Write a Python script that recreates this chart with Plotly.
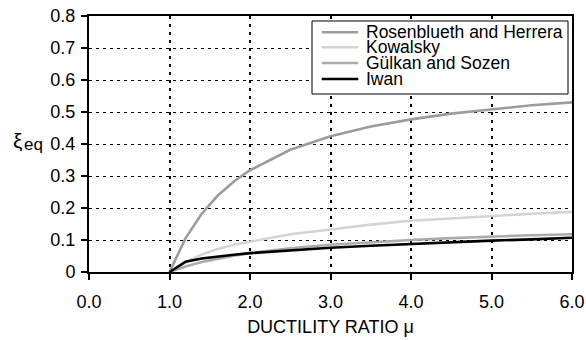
import plotly.graph_objects as go

mu = [1.0, 1.2, 1.4, 1.6, 1.8, 2.0, 2.5, 3.0, 3.5, 4.0, 4.5, 5.0, 5.5, 6.0]
rosenblueth = [0, 0.106, 0.182, 0.239, 0.283, 0.318, 0.382, 0.424, 0.455, 0.477, 0.495, 0.509, 0.521, 0.530]
kowalsky = [0, 0.030, 0.055, 0.072, 0.085, 0.095, 0.118, 0.133, 0.148, 0.160, 0.168, 0.175, 0.182, 0.188]
gulkan = [0, 0.017, 0.031, 0.042, 0.051, 0.059, 0.074, 0.085, 0.093, 0.100, 0.106, 0.111, 0.115, 0.118]
iwan = [0, 0.032, 0.042, 0.049, 0.054, 0.059, 0.068, 0.076, 0.082, 0.088, 0.093, 0.098, 0.102, 0.107]

names = ["Rosenblueth and Herrera", "Kowalsky", "Gülkan and Sozen", "Iwan"]
series = [rosenblueth, kowalsky, gulkan, iwan]
colors = ["#9c9c9c", "#d4d4d4", "#ababab", "#000000"]

x_ticks = [0, 1, 2, 3, 4, 5, 6]
y_ticks = [0, 0.1, 0.2, 0.3, 0.4, 0.5, 0.6, 0.7, 0.8]
y_labels = ["0", "0.1", "0.2", "0.3", "0.4", "0.5", "0.6", "0.7", "0.8"]

FONT = "Liberation Sans, Arial, sans-serif"
W, H = 586, 340
L, R, T, B = 89, 14, 16, 68
PW, PH = W - L - R, H - T - B


def px(xp):
    return (xp - L) / PW


def py(yp):
    return (H - B - yp) / PH


fig = go.Figure()
for name, vals, col in zip(names, series, colors):
    fig.add_trace(go.Scatter(x=mu, y=vals, mode="lines", name=name,
                             line=dict(color=col, width=2.6), showlegend=False))

fig.update_layout(
    width=W, height=H,
    margin=dict(l=L, r=R, t=T, b=B, autoexpand=False),
    paper_bgcolor="white", plot_bgcolor="white",
    font=dict(family=FONT, size=18, color="black"),
    xaxis=dict(range=[0, 6], tickvals=x_ticks, tickformat=".1f", automargin=False,
               showline=True, linecolor="black", linewidth=2, mirror=True,
               ticks="outside", ticklen=6, tickwidth=1.5, tickcolor="black",
               ticklabelstandoff=6,
               showgrid=True, gridcolor="black", gridwidth=1.6, griddash="3px,5px",
               zeroline=False,
               title=dict(text="DUCTILITY RATIO μ", font=dict(size=18), standoff=10)),
    yaxis=dict(range=[0, 0.8], tickvals=y_ticks, ticktext=y_labels, automargin=False,
               showline=True, linecolor="black", linewidth=2, mirror=True,
               ticks="outside", ticklen=6, tickwidth=1.5, tickcolor="black",
               ticklabelstandoff=2,
               showgrid=True, gridcolor="black", gridwidth=1, griddash="3px,4px",
               zeroline=False),
)

# legend box drawn by hand (tight line spacing like the reference)
fig.add_shape(type="rect", xref="paper", yref="paper",
              x0=px(312), x1=px(568), y0=py(94), y1=py(21),
              line=dict(color="black", width=1), fillcolor="white", layer="above")
rows = [32.3, 47.3, 63.0, 79.0]
for name, col, ry in zip(names, colors, rows):
    fig.add_shape(type="line", xref="paper", yref="paper",
                  x0=px(321.7), x1=px(358.3), y0=py(ry), y1=py(ry),
                  line=dict(color=col, width=2.6), layer="above")
    fig.add_annotation(text=name, xref="paper", yref="paper",
                       x=px(365), y=py(ry), xanchor="left", yanchor="middle",
                       showarrow=False, borderpad=0, font=dict(size=17.5, family=FONT))

fig.add_annotation(text="ξ", xref="paper", yref="paper",
                   x=px(17), y=py(140), xanchor="center", yanchor="middle",
                   showarrow=False, font=dict(size=21, family=FONT))
fig.add_annotation(text="eq", xref="paper", yref="paper",
                   x=px(22), y=py(144), xanchor="left", yanchor="middle",
                   showarrow=False, font=dict(size=17, family=FONT))

fig.write_html("out.html")
